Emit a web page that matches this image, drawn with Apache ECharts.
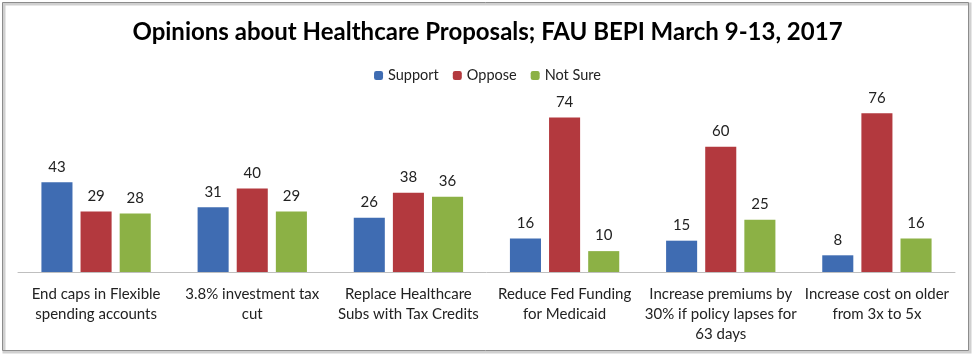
<!DOCTYPE html>
<html>
<head>
<meta charset="utf-8">
<script src="https://cdn.jsdelivr.net/npm/echarts@6/dist/echarts.min.js"></script>
<style>
  html, body { margin: 0; padding: 0; background: #fff; }
  #chart { width: 975px; height: 354px; }
</style>
</head>
<body>
<div id="chart"></div>
<script>
const categories = [
  'End caps in Flexible\nspending accounts',
  '3.8% investment tax\ncut',
  'Replace Healthcare\nSubs with Tax Credits',
  'Reduce Fed Funding\nfor Medicaid',
  'Increase premiums by\n30% if policy lapses for\n63 days',
  'Increase cost on older\nfrom 3x to 5x'
]
const support = [43, 31, 26, 16, 15, 8]
const oppose = [29, 40, 38, 74, 60, 76]
const notSure = [28, 29, 36, 10, 25, 16]

const myChart = echarts.init(document.getElementById('chart'))
const font = 'Lato, "Open Sans", sans-serif'

const barSeries = (name, data) => ({
  name: name,
  type: 'bar',
  data: data,
  barGap: '26%',
  barCategoryGap: '30%',
  label: {
    show: true,
    position: 'top',
    distance: 8,
    color: '#222',
    fontSize: 15,
    fontFamily: font
  }
})

const option = {
  color: ['#3F6CB2', '#B3393E', '#8CB145'],
  title: {
    text: 'Opinions about Healthcare Proposals; FAU BEPI March 9-13, 2017',
    left: 'center',
    top: 15,
    textStyle: {
      fontSize: 24,
      fontWeight: 'bold',
      color: '#000',
      fontFamily: font
    }
  },
  legend: {
    top: 63,
    left: 'center',
    itemWidth: 9,
    itemHeight: 9,
    itemGap: 14,
    textStyle: { fontSize: 14.5, color: '#222', fontFamily: font },
    data: ['Support', 'Oppose', 'Not Sure']
  },
  grid: {
    left: 18,
    right: 20,
    top: 105,
    bottom: 82,
    containLabel: false
  },
  xAxis: {
    type: 'category',
    data: categories,
    axisTick: { show: false },
    axisLine: { lineStyle: { color: '#BFBFBF', width: 1 } },
    axisLabel: {
      interval: 0,
      margin: 12,
      lineHeight: 20,
      fontSize: 15,
      color: '#222',
      fontFamily: font
    }
  },
  yAxis: {
    type: 'value',
    min: 0,
    max: 80,
    show: false,
    splitLine: { show: false }
  },
  graphic: [
    {
      type: 'rect',
      shape: { x: 4, y: 4, width: 966, height: 348 },
      style: { fill: 'none', stroke: '#D0D0D0', lineWidth: 3 },
      silent: true
    },
    {
      type: 'rect',
      shape: { x: 2.5, y: 2.5, width: 966, height: 348 },
      style: { fill: 'none', stroke: '#8C8C8C', lineWidth: 1 },
      silent: true
    }
  ],
  series: [
    barSeries('Support', support),
    barSeries('Oppose', oppose),
    barSeries('Not Sure', notSure)
  ]
}

myChart.setOption(option)
</script>
</body>
</html>
